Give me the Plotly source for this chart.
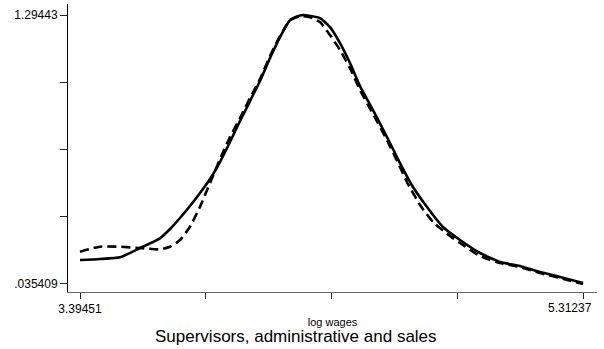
import plotly.graph_objects as go

# Solid series (log wages, density)
solid_x = [3.3945, 3.4708, 3.5470, 3.6233, 3.6995, 3.7377, 3.7758, 3.8139, 3.8521, 3.8902,
           3.9283, 3.9664, 4.0046, 4.0427, 4.0808, 4.1190, 4.1571, 4.1952, 4.2219, 4.2448,
           4.2715, 4.3096, 4.3477, 4.3859, 4.4240, 4.4621, 4.5117, 4.5651, 4.6146, 4.6642,
           4.7176, 4.7786, 4.8434, 4.9197, 4.9959, 5.0722, 5.1484, 5.2247, 5.3124]
solid_y = [0.1456, 0.1502, 0.1582, 0.2018, 0.2473, 0.2909, 0.3425, 0.3987, 0.4596, 0.5252,
           0.6049, 0.6987, 0.7971, 0.8909, 0.9846, 1.0924, 1.1908, 1.2705, 1.2880, 1.2944,
           1.2900, 1.2800, 1.2377, 1.1627, 1.0690, 0.9612, 0.8487, 0.7221, 0.6002, 0.4877,
           0.3940, 0.3002, 0.2393, 0.1784, 0.1362, 0.1174, 0.0893, 0.0659, 0.0377]

# Dashed series
dash_x = [3.3945, 3.4708, 3.5470, 3.6233, 3.6995, 3.7377, 3.7758, 3.8139, 3.8521, 3.8902,
          3.9283, 3.9664, 4.0046, 4.0427, 4.0808, 4.1190, 4.1571, 4.1952, 4.2334, 4.2715,
          4.3096, 4.3477, 4.3859, 4.4240, 4.4621, 4.5117, 4.5651, 4.6146, 4.6413, 4.6909,
          4.7404, 4.8053, 4.8434, 4.9197, 4.9959, 5.0722, 5.1484, 5.2247, 5.3124]
dash_y = [0.1845, 0.2079, 0.2079, 0.2018, 0.1957, 0.2079, 0.2393, 0.3016, 0.3954, 0.5065,
          0.6190, 0.7221, 0.8112, 0.9049, 0.9940, 1.1018, 1.1955, 1.2705, 1.2890, 1.2840,
          1.2612, 1.2002, 1.1299, 1.0455, 0.9424, 0.8299, 0.7080, 0.5815, 0.5112, 0.4034,
          0.3237, 0.2581, 0.2252, 0.1643, 0.1315, 0.1127, 0.0846, 0.0612, 0.0331]

x_tickvals = [3.39451, 3.873975, 4.35344, 4.832905, 5.31237]
x_ticktext = ["3.39451", "", "", "", ""]
x_last_label = "5.31237"
y_tickvals = [0.035409, 0.350164, 0.664919, 0.979675, 1.29443]
y_ticktext = [".035409", "", "", "", "1.29443"]

FONT = "Arial, 'Liberation Sans', sans-serif"

fig = go.Figure()
fig.add_trace(go.Scatter(x=solid_x, y=solid_y, mode="lines",
                         line=dict(color="black", width=2.6, shape="spline", smoothing=0.5),
                         showlegend=False))
fig.add_trace(go.Scatter(x=dash_x, y=dash_y, mode="lines",
                         line=dict(color="black", width=2.6, dash="9px,5px", shape="spline", smoothing=0.5),
                         showlegend=False))

fig.update_layout(
    width=604, height=349,
    margin=dict(l=68, r=7, t=4, b=57),
    paper_bgcolor="white", plot_bgcolor="white",
    font=dict(family=FONT, color="black", size=12),
    xaxis=dict(range=[3.34876, 5.36575], tickmode="array", tickvals=x_tickvals, ticktext=x_ticktext,
               showgrid=False, zeroline=False, showline=True, linecolor="#666", linewidth=1,
               ticks="outside", ticklen=6, tickcolor="#222", tickwidth=1,
               tickfont=dict(size=12, family=FONT),
               title=dict(text="log wages", font=dict(size=11, family=FONT), standoff=2)),
    yaxis=dict(range=[-0.004434, 1.34599], tickmode="array", tickvals=y_tickvals, ticktext=y_ticktext,
               showgrid=False, zeroline=False, showline=True, linecolor="black", linewidth=1,
               ticks="outside", ticklen=7, tickcolor="#222", tickwidth=1,
               tickfont=dict(size=12, family=FONT)),
    annotations=[
        dict(text=x_last_label, xref="x", yref="paper", x=x_tickvals[-1], y=0,
             xanchor="right", yanchor="top", xshift=11, yshift=-7, showarrow=False,
             font=dict(size=12, family=FONT, color="black")),
        dict(text="Supervisors, administrative and sales", xref="paper", yref="paper",
             x=0.431, y=0, yshift=-44, xanchor="center", yanchor="middle", showarrow=False,
             font=dict(size=17, family=FONT, color="black")),
    ],
)

fig.write_html("out.html")
